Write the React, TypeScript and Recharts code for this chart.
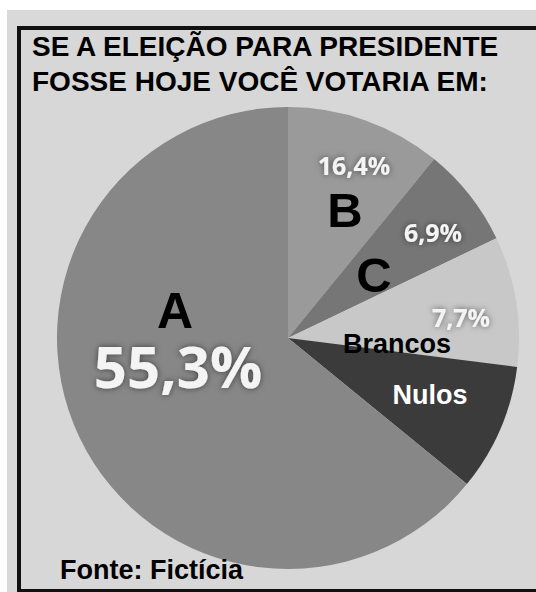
import { PieChart, Pie, Cell } from 'recharts';

// Slices clockwise from 12 o'clock. The drawing is deliberately not to scale,
// so the slice shares are read off the angles, the printed figures are kept apart.
const categories = ['B', 'C', 'Brancos', 'Nulos', 'A'];
const sliceShares = [10.9, 7.0, 9.1, 8.9, 64.1];
const percentLabels = ['16,4%', '6,9%', '7,7%', '', '55,3%'];
const sliceColors = ['#9a9a9a', '#767676', '#c8c8c8', '#3b3b3b', '#878787'];

const data = categories.map((name, i) => ({
  name,
  value: sliceShares[i],
  pct: percentLabels[i],
}));

const CX = 283;
const CY = 333;
const RADIUS = 231;

// label placement, offsets from the pie centre
// name: [dx, dy, fontSize, color], pct: [dx, dy, fontSize]
const labelLayout: Record<string, { name: [number, number, number, string]; pct?: [number, number, number] }> = {
  A: { name: [-113, -10, 50, '#000'], pct: [-110, 50, 58] },
  B: { name: [57, -111, 49, '#000'], pct: [66, -163, 25] },
  C: { name: [86, -46, 49, '#000'], pct: [145, -96, 25] },
  Brancos: { name: [109, 15, 27, '#000'], pct: [173, -11, 25] },
  Nulos: { name: [142, 66, 27, '#fff'] },
};

const ARIAL = '"Liberation Sans", Arial, sans-serif';
const OPEN = '"Open Sans", sans-serif';

// eslint-disable-next-line @typescript-eslint/no-explicit-any
function SliceLabel(props: any) {
  const { cx, cy, name, payload } = props;
  const layout = labelLayout[name];
  if (!layout) return null;
  const [ndx, ndy, nfs, ncol] = layout.name;
  return (
    <g>
      <text
        x={cx + ndx}
        y={cy + ndy}
        textAnchor="middle"
        fontFamily={ARIAL}
        fontWeight={700}
        fontSize={nfs}
        fill={ncol}
      >
        {name}
      </text>
      {layout.pct && payload?.pct ? (
        <text
          x={cx + layout.pct[0]}
          y={cy + layout.pct[1]}
          textAnchor="middle"
          fontFamily={OPEN}
          fontWeight={700}
          fontSize={layout.pct[2]}
          fill="#f4f4f4"
          filter="url(#softGlow)"
        >
          {payload.pct}
        </text>
      ) : null}
    </g>
  );
}

export default function App() {
  return (
    <div
      style={{
        position: 'absolute',
        left: 0,
        top: 0,
        width: 536,
        height: 592,
        background: '#fff',
        overflow: 'hidden',
      }}
    >
      <svg width={0} height={0} style={{ position: 'absolute' }}>
        <defs>
          <filter id="softGlow" x="-30%" y="-50%" width="160%" height="200%">
            <feDropShadow dx={0} dy={0} stdDeviation={3} floodColor="#000" floodOpacity={0.55} />
          </filter>
        </defs>
      </svg>
      <div
        style={{
          position: 'absolute',
          left: 7,
          top: 10,
          width: 529,
          height: 582,
          background: '#d9d9d9',
        }}
      />
      <div
        style={{
          position: 'absolute',
          left: 17,
          top: 26,
          width: 540,
          height: 559,
          border: '4px solid #111',
          background: '#d7d7d7',
        }}
      />
      <div style={{ position: 'absolute', left: 0, top: 0 }}>
        <PieChart width={536} height={592}>
          <Pie
            data={data}
            dataKey="value"
            nameKey="name"
            cx={CX}
            cy={CY}
            outerRadius={RADIUS}
            startAngle={90}
            endAngle={-270}
            stroke="none"
            labelLine={false}
            label={<SliceLabel />}
            isAnimationActive={false}
          >
            {data.map((d, i) => (
              <Cell key={d.name} fill={sliceColors[i]} />
            ))}
          </Pie>
        </PieChart>
      </div>
      <div
        style={{
          position: 'absolute',
          left: 32,
          top: 29,
          fontFamily: ARIAL,
          fontWeight: 700,
          fontSize: 28,
          lineHeight: '35px',
          color: '#000',
          whiteSpace: 'nowrap',
        }}
      >
        SE A ELEIÇÃO PARA PRESIDENTE
        <br />
        FOSSE HOJE VOCÊ VOTARIA EM:
      </div>
      <div
        style={{
          position: 'absolute',
          left: 60,
          top: 553,
          fontFamily: ARIAL,
          fontWeight: 700,
          fontSize: 27,
          lineHeight: '35px',
          color: '#000',
          whiteSpace: 'nowrap',
        }}
      >
        Fonte: Fictícia
      </div>
    </div>
  );
}
